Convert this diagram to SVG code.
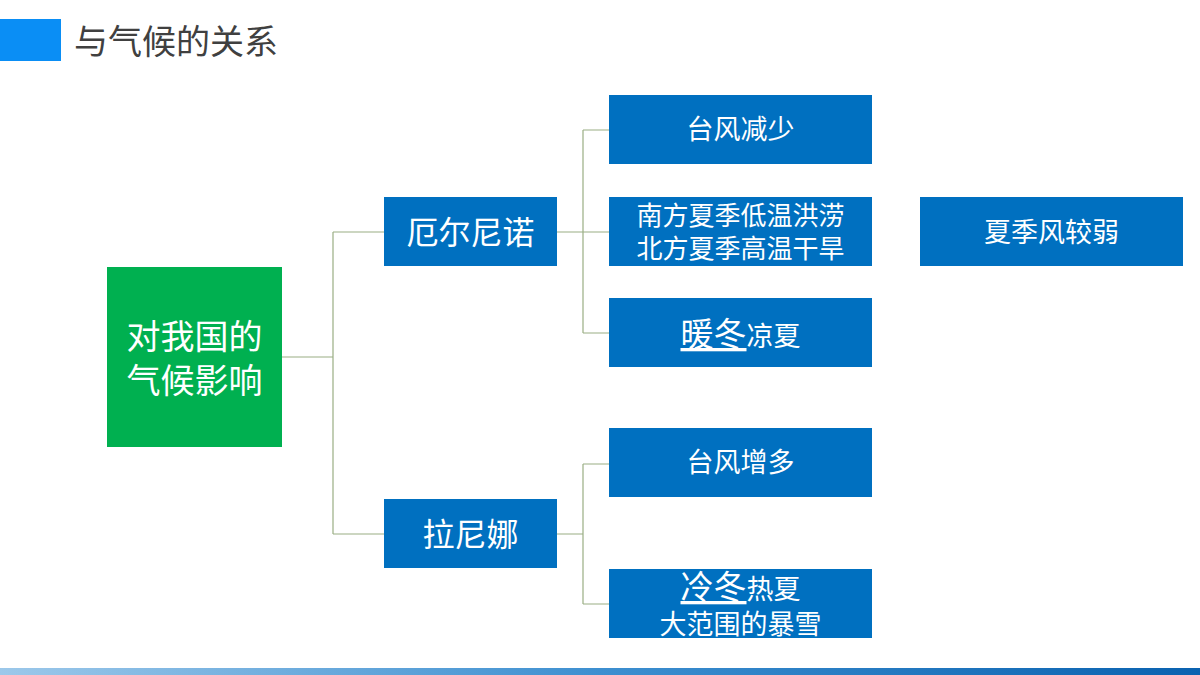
<svg xmlns="http://www.w3.org/2000/svg" width="1200" height="675" viewBox="0 0 1200 675">
<style>
.b{fill:#0070c0}
.t{fill:#fff;font-family:"Noto Sans CJK SC","Noto Sans",sans-serif;text-anchor:middle}
.c{stroke:#9aae84;stroke-width:1.2;fill:none}
</style>
<defs><linearGradient id="g" x1="0" x2="1"><stop offset="0" stop-color="#9cc8ea"/><stop offset="0.5" stop-color="#3d8fd0"/><stop offset="1" stop-color="#0a62b0"/></linearGradient></defs>
<rect width="1200" height="675" fill="#fff"/>
<rect x="0" y="19" width="61" height="42" fill="#0a8ef5"/>
<text x="74" y="54" font-family="Noto Sans CJK SC,sans-serif" font-size="34" fill="#404040">与气候的关系</text>
<rect x="0" y="668" width="1200" height="7" fill="url(#g)"/>
<g id="connectors">
<path class="c" d="M282 357H333M333 232V534M333 232H384M333 534H384"/>
<path class="c" d="M557 232H583M583 130V333M583 130H609M583 232H609M583 333H609"/>
<path class="c" d="M557 534H583M583 464V604M583 464H609M583 604H609"/>
</g>
<g id="root"><rect x="107" y="267" width="175" height="180" fill="#00b050"/><text class="t" font-size="34"><tspan x="194.5" y="349">对我国的</tspan><tspan x="194.5" y="393">气候影响</tspan></text></g>
<g id="elnino"><rect class="b" x="384" y="197" width="173" height="69"/><text class="t" x="470.5" y="244" font-size="32">厄尔尼诺</text></g>
<g id="lanina"><rect class="b" x="384" y="499" width="173" height="69"/><text class="t" x="470.5" y="546" font-size="32">拉尼娜</text></g>
<g id="n1"><rect class="b" x="609" y="95" width="263" height="69"/><text class="t" x="740.5" y="139" font-size="27">台风减少</text></g>
<g id="n2"><rect class="b" x="609" y="197" width="263" height="69"/><text class="t" font-size="26"><tspan x="740.5" y="225">南方夏季低温洪涝</tspan><tspan x="740.5" y="258">北方夏季高温干旱</tspan></text></g>
<g id="n3"><rect class="b" x="609" y="298" width="263" height="69"/><text class="t" x="740.5" y="346" font-size="27"><tspan font-size="33" text-decoration="underline">暖冬</tspan>凉夏</text></g>
<g id="n4"><rect class="b" x="609" y="428" width="263" height="69"/><text class="t" x="740.5" y="472" font-size="27">台风增多</text></g>
<g id="n5"><rect class="b" x="609" y="569" width="263" height="69"/><text class="t" font-size="27"><tspan x="740.5" y="599"><tspan font-size="33" text-decoration="underline">冷冬</tspan>热夏</tspan><tspan x="740.5" y="634">大范围的暴雪</tspan></text></g>
<g id="n6"><rect class="b" x="920" y="197" width="263" height="69"/><text class="t" x="1051.5" y="242" font-size="27">夏季风较弱</text></g>
</svg>
